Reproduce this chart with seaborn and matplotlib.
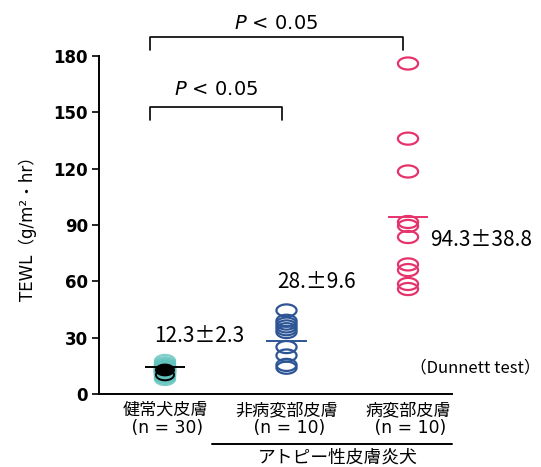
import numpy as np
import pandas as pd
import matplotlib
matplotlib.use("Agg")
import matplotlib.pyplot as plt
from matplotlib.path import Path
import seaborn as sns

# ---- data ----
groups = ["健常犬皮膚\n (n = 30)", "非病変部皮膚\n (n = 10)", "病変部皮膚\n (n = 10)"]
healthy = [8.0, 8.8, 9.5, 10.0, 10.3, 10.7, 11.0, 11.2, 11.5, 11.7, 11.9, 12.0, 12.2, 12.3, 12.4,
           12.5, 12.6, 12.8, 13.0, 13.1, 13.3, 13.5, 13.7, 14.0, 14.2, 14.5, 15.0, 15.6, 16.4, 17.6]
healthy_dark = [12.8, 10.2]
nonlesional = [44.5, 39.0, 37.5, 36.0, 34.5, 33.0, 25.0, 20.5, 15.5, 14.0]
lesional = [176.0, 136.0, 118.5, 91.6, 89.5, 83.6, 69.0, 66.0, 58.6, 55.9]
mean_lines = [14.5, 28.2, 94.4]
mean_labels = ["12.3±2.3", "28.±9.6", "94.3±38.8"]
colors = ["#62C3BE", "#2D5596", "#E5336C"]
yticks = [0, 30, 60, 90, 120, 150, 180]

sns.set_theme(style="white")
plt.rcParams["font.family"] = ["DejaVu Sans", "Noto Sans CJK JP"]
plt.rcParams["text.color"] = "black"
plt.rcParams["axes.labelcolor"] = "black"
plt.rcParams["xtick.color"] = "black"
plt.rcParams["ytick.color"] = "black"
cjk = ["Noto Sans CJK JP", "DejaVu Sans"]

df = pd.DataFrame({
    "group": [groups[0]] * len(healthy) + [groups[1]] * len(nonlesional) + [groups[2]] * len(lesional),
    "value": healthy + nonlesional + lesional,
})
df_dark = pd.DataFrame({"group": [groups[0]] * len(healthy_dark), "value": healthy_dark})

t = np.linspace(0, 2 * np.pi, 60)
ellipse = Path(np.column_stack([np.cos(t), 0.6 * np.sin(t)]), closed=True)

fig = plt.figure(figsize=(5.41, 4.67), dpi=100)
ax = fig.add_axes([0.183, 0.1563, 0.6525, 0.7238])

sns.stripplot(data=df, x="group", y="value", hue="group", palette=colors, order=groups,
              jitter=False, marker=ellipse, size=14.5, linewidth=1.6, ax=ax, legend=False)
for coll in ax.collections:
    fc = coll.get_facecolor()
    coll.set_edgecolor(fc)
    coll.set_facecolor("none")
    coll.set_linewidth(1.6)
ax.collections[0].set_alpha(0.8)

n_before = len(ax.collections)
sns.stripplot(data=df_dark, x="group", y="value", order=groups, color="black",
              jitter=False, marker=ellipse, size=13, linewidth=1.4, ax=ax, legend=False)
dark = ax.collections[n_before]
dark.set_facecolor(["black", "none"])
dark.set_edgecolor("black")

# mean lines
lc = ["black", colors[1], colors[2]]
for i, m in enumerate(mean_lines):
    ax.hlines(m, i - 0.165, i + 0.165, color=lc[i], lw=1.4, zorder=5)

# mean labels
label_pos = [(0.28, 30.9), (1.25, 59.6), (2.60, 82.0)]
for (x, y), s in zip(label_pos, mean_labels):
    ax.text(x, y, s, ha="center", va="center", fontsize=15, family=cjk, clip_on=False)

ax.set_xlim(-0.543, 2.362)
ax.set_ylim(0, 180)
ax.set_yticks(yticks)
ax.set_yticklabels([str(v) for v in yticks], fontsize=12, fontweight="bold")
ax.set_xticks(range(3))
ax.set_xticklabels(groups, fontsize=12.3, linespacing=1.0)
ax.tick_params(axis="x", length=0, pad=5)
ax.tick_params(axis="y", length=5, width=1.2, color="black", left=True, pad=3)
ax.set_xlabel("")
ax.set_ylabel("TEWL（g/m²・hr）", fontsize=12, labelpad=12)
for s in ["top", "right"]:
    ax.spines[s].set_visible(False)
for s in ["left", "bottom"]:
    ax.spines[s].set_color("black")
    ax.spines[s].set_linewidth(1.4)

# significance brackets
def bracket(x0, x1, ytop, ybot, label, ylab):
    ax.plot([x0, x0, x1, x1], [ybot, ytop, ytop, ybot], color="black", lw=1.2, clip_on=False)
    ax.text((x0 + x1) / 2, ylab, label, ha="center", va="center", fontsize=14, clip_on=False)

bracket(-0.123, 1.959, 190.0, 183.2, "$P$ < 0.05", 197.5)
bracket(-0.123, 0.963, 152.8, 145.9, "$P$ < 0.05", 162.0)

ax.text(2.55, 13.8, "（Dunnett test）", ha="center", va="center", fontsize=12, family=cjk)

# group bracket under axis
fig.add_artist(plt.Line2D([0.392, 0.835], [0.049, 0.049], color="black", lw=1.4,
                          transform=fig.transFigure))
fig.text(0.625, 0.020, "アトピー性皮膚炎犬", ha="center", va="center", fontsize=12.8, family=cjk)

fig.savefig("out.png", dpi=100)
